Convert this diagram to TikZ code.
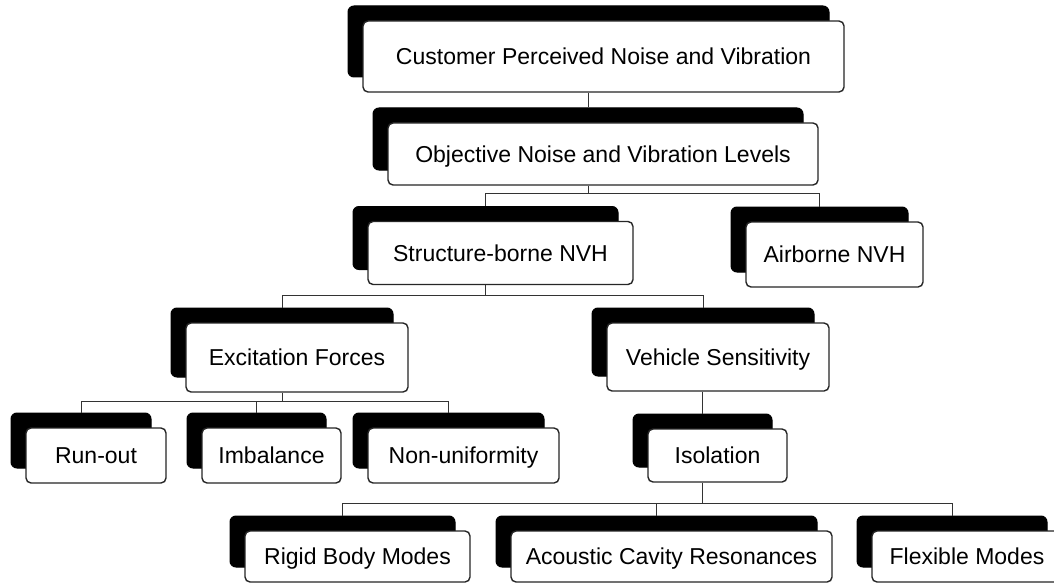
\documentclass[tikz,border=0pt]{standalone}
\usepackage{fontspec}
\setmainfont{Liberation Sans}
\usetikzlibrary{calc}
\tikzset{backing/.style={fill=black,draw=black,line width=1pt,rounded corners=6pt,inner sep=0pt},
  card/.style={fill=white,draw=black!85,line width=1.4pt,rounded corners=5pt,inner sep=0pt,
    text height=16.5pt,text depth=0pt,font=\fontsize{23}{27}\selectfont},
  link/.style={draw=black!80,line width=1pt}}
% one box = black backing plus white card shifted down-right
\newcommand{\nvhbox}[6]{%
  \node[backing,minimum width=#4pt,minimum height=#5pt] (#1-s) at (#2,#3) {};
  \node[card,minimum width=#4pt,minimum height=#5pt] (#1) at ([shift={(15,15)}]#1-s.center) {#6};}
\begin{document}
\begin{tikzpicture}[x=1pt,y=-1pt]
  \fill[white] (0,0) rectangle (1054,583);
  \useasboundingbox (0,0) rectangle (1054,583);
  % levels
  \nvhbox{cust}{588.5}{41.5}{481}{71}{Customer Perceived Noise and Vibration}
  \nvhbox{obj}{588}{139}{430}{62}{Objective Noise and Vibration Levels}
  \nvhbox{struct}{485.5}{238}{265}{63}{Structure-borne NVH}
  \nvhbox{air}{819.5}{239.5}{177}{65}{Airborne NVH}
  \nvhbox{exc}{282}{342.5}{222}{69}{Excitation Forces}
  \nvhbox{veh}{703}{342}{222}{68}{Vehicle Sensitivity}
  \nvhbox{runout}{81}{440.5}{140}{55}{Run-out}
  \nvhbox{imb}{256.5}{440.5}{139}{55}{Imbalance}
  \nvhbox{nonu}{448.5}{440.5}{191}{55}{Non-uniformity}
  \nvhbox{iso}{702.5}{440.5}{139}{53}{Isolation}
  \nvhbox{rigid}{342.5}{541.5}{225}{51}{Rigid Body Modes}
  \nvhbox{cavity}{656.5}{541.5}{321}{51}{Acoustic Cavity Resonances}
  \nvhbox{flex}{952}{541.5}{190}{51}{Flexible Modes}
  % tree lines
  \coordinate (obj-bus) at (588,193);
  \coordinate (struct-bus) at (485.5,295);
  \coordinate (exc-bus) at (282,401);
  \coordinate (iso-bus) at (702.5,503);
  \draw[link] (obj-s.north |- cust.south) -- (obj-s.north);
  \draw[link] (obj-s |- obj.south) -- (obj-bus) -| (struct-s.north);
  \draw[link] (obj-bus) -| (air-s.north);
  \draw[link] (struct-s |- struct.south) -- (struct-bus) -| (exc-s.north);
  \draw[link] (struct-bus) -| (veh-s.north);
  \draw[link] (exc-s |- exc.south) -- (exc-bus) -| (runout-s.north);
  \draw[link] (exc-bus) -| (imb-s.north);
  \draw[link] (exc-bus) -| (nonu-s.north);
  \draw[link] (iso-s.north |- veh.south) -- (iso-s.north);
  \draw[link] (iso-s |- iso.south) -- (iso-bus) -| (rigid-s.north);
  \draw[link] (iso-bus) -| (cavity-s.north);
  \draw[link] (iso-bus) -| (flex-s.north);
\end{tikzpicture}
\end{document}
